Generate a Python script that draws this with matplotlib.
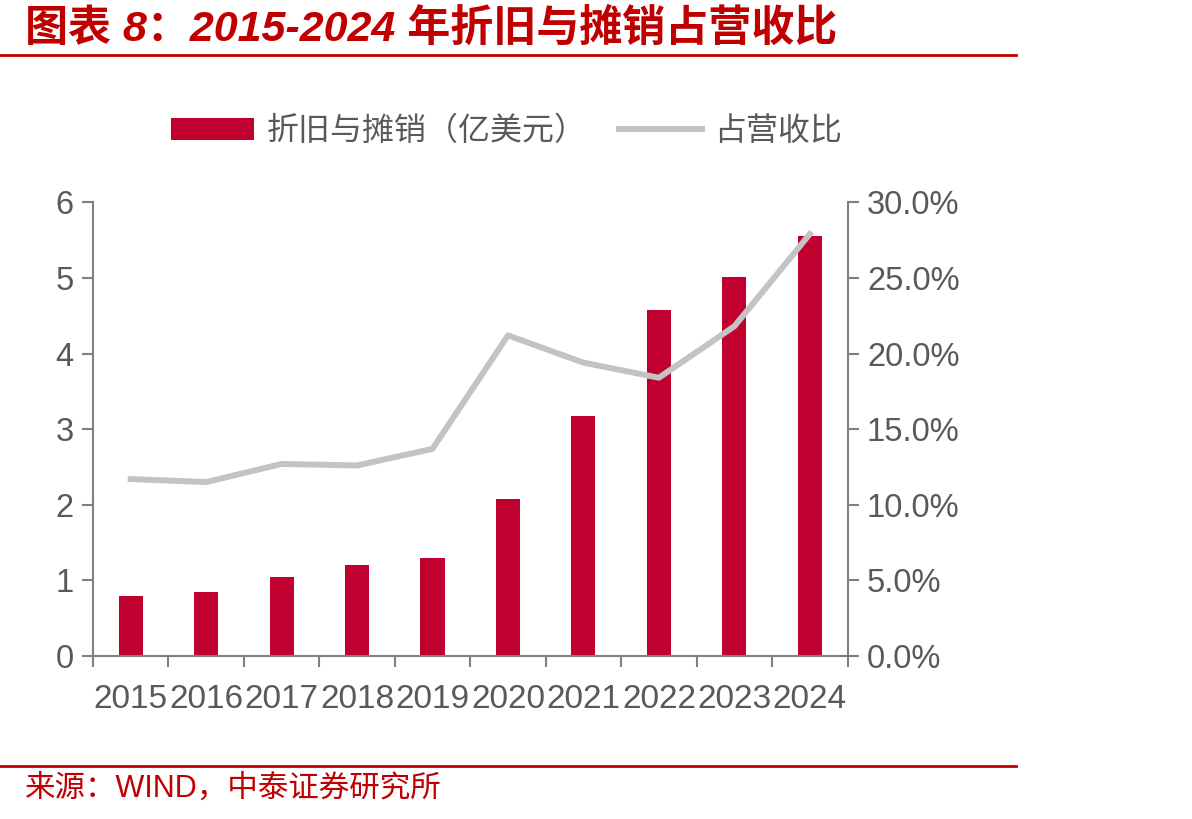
import matplotlib
matplotlib.use("Agg")
from matplotlib import pyplot as plt
from matplotlib.ticker import FuncFormatter, FixedLocator
import numpy as np

plt.rcParams['font.family'] = ['Liberation Sans', 'Noto Sans CJK SC']

years = ['2015', '2016', '2017', '2018', '2019', '2020', '2021', '2022', '2023', '2024']
da_amount = [0.79, 0.84, 1.04, 1.20, 1.30, 2.07, 3.18, 4.57, 5.01, 5.56]  # 亿美元
da_ratio = [11.7, 11.5, 12.7, 12.6, 13.7, 21.2, 19.4, 18.4, 21.8, 27.9]    # %

red = '#C0002F'
grey_line = '#C3C3C3'
axis_grey = '#808080'
text_grey = '#595959'

fig = plt.figure(figsize=(11.92, 8.19), dpi=100)
ax = fig.add_axes([0.078, 0.199, 0.633, 0.554])
ax2 = ax.twinx()

x = np.arange(len(years))
bars = ax.bar(x, da_amount, width=0.32, color=red, label='折旧与摊销（亿美元）', zorder=2)
line, = ax2.plot(x, da_ratio, color=grey_line, lw=4.3, label='占营收比', zorder=3)

ax.set_xlim(-0.5, len(years) - 0.5)
ax.set_ylim(0, 6)
ax2.set_ylim(0, 30)
ax.set_yticks(range(0, 7))
ax2.set_yticks(range(0, 31, 5))
ax2.yaxis.set_major_formatter(FuncFormatter(lambda v, p: '%.1f%%' % v))

# year labels centred, tick marks at category boundaries
ax.set_xticks(x)
ax.set_xticklabels(years)
ax.xaxis.set_minor_locator(FixedLocator(np.arange(-0.5, len(years), 1)))
ax.tick_params(axis='x', which='major', length=0, pad=20, labelsize=24, labelcolor=text_grey)
ax.tick_params(axis='x', which='minor', length=8, width=1.5, color=axis_grey, direction='out')
ax.tick_params(axis='y', length=8, width=1.5, color=axis_grey, labelsize=23.5, labelcolor=text_grey, pad=6)
ax2.tick_params(axis='y', length=8, width=1.5, color=axis_grey, labelsize=23.5, labelcolor=text_grey, pad=6)

for a in (ax, ax2):
    for s in a.spines.values():
        s.set_visible(False)
    a.spines['left'].set_visible(a is ax)
    a.spines['right'].set_visible(a is ax2)
    a.spines['bottom'].set_visible(a is ax)
    for s in a.spines.values():
        s.set_color(axis_grey)
        s.set_linewidth(1.5)

ax.set_zorder(ax2.get_zorder() - 1)
ax.patch.set_visible(False)

fig.legend([bars, line], ['折旧与摊销（亿美元）', '占营收比'], loc='center',
           bbox_to_anchor=(0.425, 0.84), ncol=2, frameon=False,
           prop={'family': ['Noto Sans CJK SC'], 'size': 23},
           handlelength=2.6, handleheight=0.7, columnspacing=1.0, handletextpad=0.4,
           labelcolor=text_grey)

# title and footer
fig.text(0.021, 0.965, '图表 8：2015-2024 年折旧与摊销占营收比', color='#C00000',
         fontsize=31, fontweight='bold', va='center', ha='left', style='italic')
fig.add_artist(plt.Line2D([0, 0.852], [0.933, 0.933], color='#C00000', lw=2))
fig.add_artist(plt.Line2D([0, 0.852], [0.065, 0.065], color='#C00000', lw=2))
fig.text(0.021, 0.037, '来源：WIND，中泰证券研究所', color='#C00000', fontsize=22,
         va='center', ha='left')

fig.savefig('out.png', dpi=100)
